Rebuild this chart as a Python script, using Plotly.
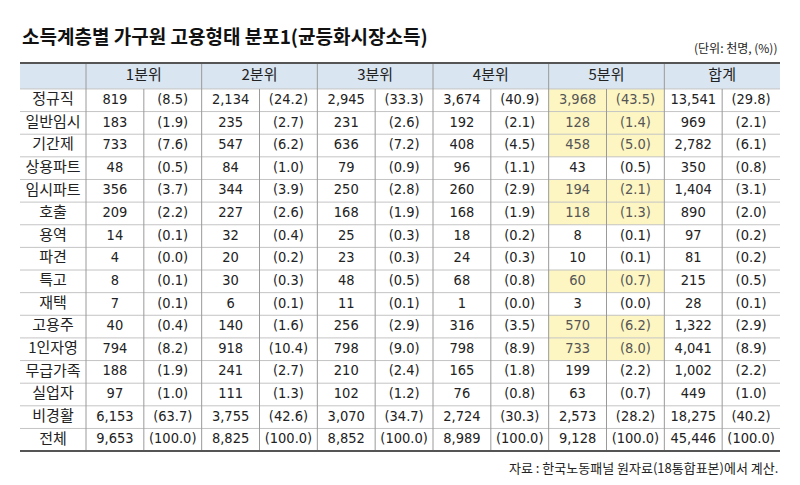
import plotly.graph_objects as go

title = "소득계층별 가구원 고용형태 분포1(균등화시장소득)"
unit_note = "(단위: 천명, (%))"
source_note = "자료 : 한국노동패널 원자료(18통합표본)에서 계산."

groups = ["1분위", "2분위", "3분위", "4분위", "5분위", "합계"]
categories = ["정규직", "일반임시", "기간제", "상용파트", "임시파트", "호출", "용역", "파견",
              "특고", "재택", "고용주", "1인자영", "무급가족", "실업자", "비경활", "전체"]

q1_n = [819, 183, 733, 48, 356, 209, 14, 4, 8, 7, 40, 794, 188, 97, 6153, 9653]
q1_pct = [8.5, 1.9, 7.6, 0.5, 3.7, 2.2, 0.1, 0.0, 0.1, 0.1, 0.4, 8.2, 1.9, 1.0, 63.7, 100.0]
q2_n = [2134, 235, 547, 84, 344, 227, 32, 20, 30, 6, 140, 918, 241, 111, 3755, 8825]
q2_pct = [24.2, 2.7, 6.2, 1.0, 3.9, 2.6, 0.4, 0.2, 0.3, 0.1, 1.6, 10.4, 2.7, 1.3, 42.6, 100.0]
q3_n = [2945, 231, 636, 79, 250, 168, 25, 23, 48, 11, 256, 798, 210, 102, 3070, 8852]
q3_pct = [33.3, 2.6, 7.2, 0.9, 2.8, 1.9, 0.3, 0.3, 0.5, 0.1, 2.9, 9.0, 2.4, 1.2, 34.7, 100.0]
q4_n = [3674, 192, 408, 96, 260, 168, 18, 24, 68, 1, 316, 798, 165, 76, 2724, 8989]
q4_pct = [40.9, 2.1, 4.5, 1.1, 2.9, 1.9, 0.2, 0.3, 0.8, 0.0, 3.5, 8.9, 1.8, 0.8, 30.3, 100.0]
q5_n = [3968, 128, 458, 43, 194, 118, 8, 10, 60, 3, 570, 733, 199, 63, 2573, 9128]
q5_pct = [43.5, 1.4, 5.0, 0.5, 2.1, 1.3, 0.1, 0.1, 0.7, 0.0, 6.2, 8.0, 2.2, 0.7, 28.2, 100.0]
total_n = [13541, 969, 2782, 350, 1404, 890, 97, 81, 215, 28, 1322, 4041, 1002, 449, 18275, 45446]
total_pct = [29.8, 2.1, 6.1, 0.8, 3.1, 2.0, 0.2, 0.2, 0.5, 0.1, 2.9, 8.9, 2.2, 1.0, 40.2, 100.0]

# rows highlighted in the 5분위 columns
highlight_q5 = ["정규직", "일반임시", "기간제", "임시파트", "호출", "특고", "고용주", "1인자영"]

series = [(q1_n, q1_pct), (q2_n, q2_pct), (q3_n, q3_pct),
          (q4_n, q4_pct), (q5_n, q5_pct), (total_n, total_pct)]

# layout of the grid (pixel-like units)
label_w = 66
col_w = 57.83
header_h = 1.15
row_h = 1.0

widths = [label_w] + [col_w] * (2 * len(groups))
x_edges = [0]
for w in widths:
    x_edges.append(x_edges[-1] + w)
y_edges = [0, header_h]
for _ in categories:
    y_edges.append(y_edges[-1] + row_h)

xc = [(x_edges[i] + x_edges[i + 1]) / 2 for i in range(len(widths))]
yc = [(y_edges[i] + y_edges[i + 1]) / 2 for i in range(len(y_edges) - 1)]

BLUE = "#d9e5f1"
YELLOW = "#fdf6c3"
NUM_FONT = "DejaVu Sans Condensed, Liberation Sans Narrow, Noto Sans CJK KR"
KO_FONT = "Noto Sans CJK KR"

# cell fill codes: 0 white, 1 yellow, 2 header blue
z = [[2] * len(widths)]
for r, cat in enumerate(categories):
    row = [0] * len(widths)
    if cat in highlight_q5:
        row[9] = 1
        row[10] = 1
    z.append(row)

fig = go.Figure()
fig.add_trace(go.Heatmap(
    x=x_edges, y=y_edges, z=z, zmin=0, zmax=2, showscale=False, hoverinfo="skip",
    colorscale=[[0, "white"], [0.333, "white"], [0.333, YELLOW], [0.667, YELLOW],
                [0.667, BLUE], [1, BLUE]],
))

# header text
fig.add_trace(go.Scatter(
    x=[(x_edges[1 + 2 * g] + x_edges[3 + 2 * g]) / 2 for g in range(len(groups))],
    y=[yc[0]] * len(groups), text=groups, mode="text",
    textfont=dict(family=KO_FONT, size=15, color="#222"), hoverinfo="skip",
))

# row labels
fig.add_trace(go.Scatter(
    x=[xc[0]] * len(categories), y=yc[1:], text=categories, mode="text",
    textfont=dict(family=KO_FONT, size=15, color="#222"), hoverinfo="skip",
))

# body numbers
tx, ty, tt, hx, hy, ht = [], [], [], [], [], []
for r, cat in enumerate(categories):
    for g, (ns, ps) in enumerate(series):
        cells = [f"{ns[r]:,}", f"({ps[r]:.1f})"]
        for k, txt in enumerate(cells):
            c = 1 + 2 * g + k
            if g == 4 and cat in highlight_q5:
                hx.append(xc[c]); hy.append(yc[r + 1]); ht.append(txt)
            else:
                tx.append(xc[c]); ty.append(yc[r + 1]); tt.append(txt)

fig.add_trace(go.Scatter(x=tx, y=ty, text=tt, mode="text", hoverinfo="skip",
                         textfont=dict(family=NUM_FONT, size=14.5, color="#222")))
fig.add_trace(go.Scatter(x=hx, y=hy, text=ht, mode="text", hoverinfo="skip",
                         textfont=dict(family=NUM_FONT, size=14.5, color="#555")))

# grid lines
shapes = []
for y in y_edges[1:-1]:
    shapes.append(dict(type="line", xref="x", yref="y", x0=0, x1=x_edges[-1], y0=y, y1=y,
                       line=dict(color="#c4c4c4", width=1)))
for i, x in enumerate(x_edges[1:-1], start=1):
    top = 0 if i % 2 == 1 else header_h
    shapes.append(dict(type="line", xref="x", yref="y", x0=x, x1=x, y0=top, y1=y_edges[-1],
                       line=dict(color="#9a9a9a", width=1)))
for y in (0, y_edges[-1]):
    shapes.append(dict(type="line", xref="x", yref="y", x0=0, x1=x_edges[-1], y0=y, y1=y,
                       line=dict(color="#555", width=2)))

fig.update_layout(
    width=800, height=485,
    margin=dict(l=20, r=20, t=62, b=33),
    paper_bgcolor="white", plot_bgcolor="white",
    showlegend=False,
    shapes=shapes,
    xaxis=dict(range=[0, x_edges[-1]], visible=False, fixedrange=True),
    yaxis=dict(range=[y_edges[-1] + 0.04, -0.04], visible=False, fixedrange=True),
    annotations=[
        dict(text=f"<b>{title}</b>", xref="paper", yref="paper", x=0, y=1, yshift=27,
             xanchor="left", yanchor="middle", showarrow=False,
             font=dict(family=KO_FONT, size=19, color="#111")),
        dict(text=unit_note, xref="paper", yref="paper", x=1, y=1, yshift=15,
             xanchor="right", yanchor="middle", showarrow=False,
             font=dict(family=KO_FONT, size=12, color="#222")),
        dict(text=source_note, xref="paper", yref="paper", x=1, y=0, yshift=-15,
             xanchor="right", yanchor="middle", showarrow=False,
             font=dict(family=KO_FONT, size=13, color="#222")),
    ],
)

# drop the browser's default page margin so the figure sits at the window origin
fig.write_html("out.html", config={"displayModeBar": False},
               post_script="document.body.style.margin = '0';")
